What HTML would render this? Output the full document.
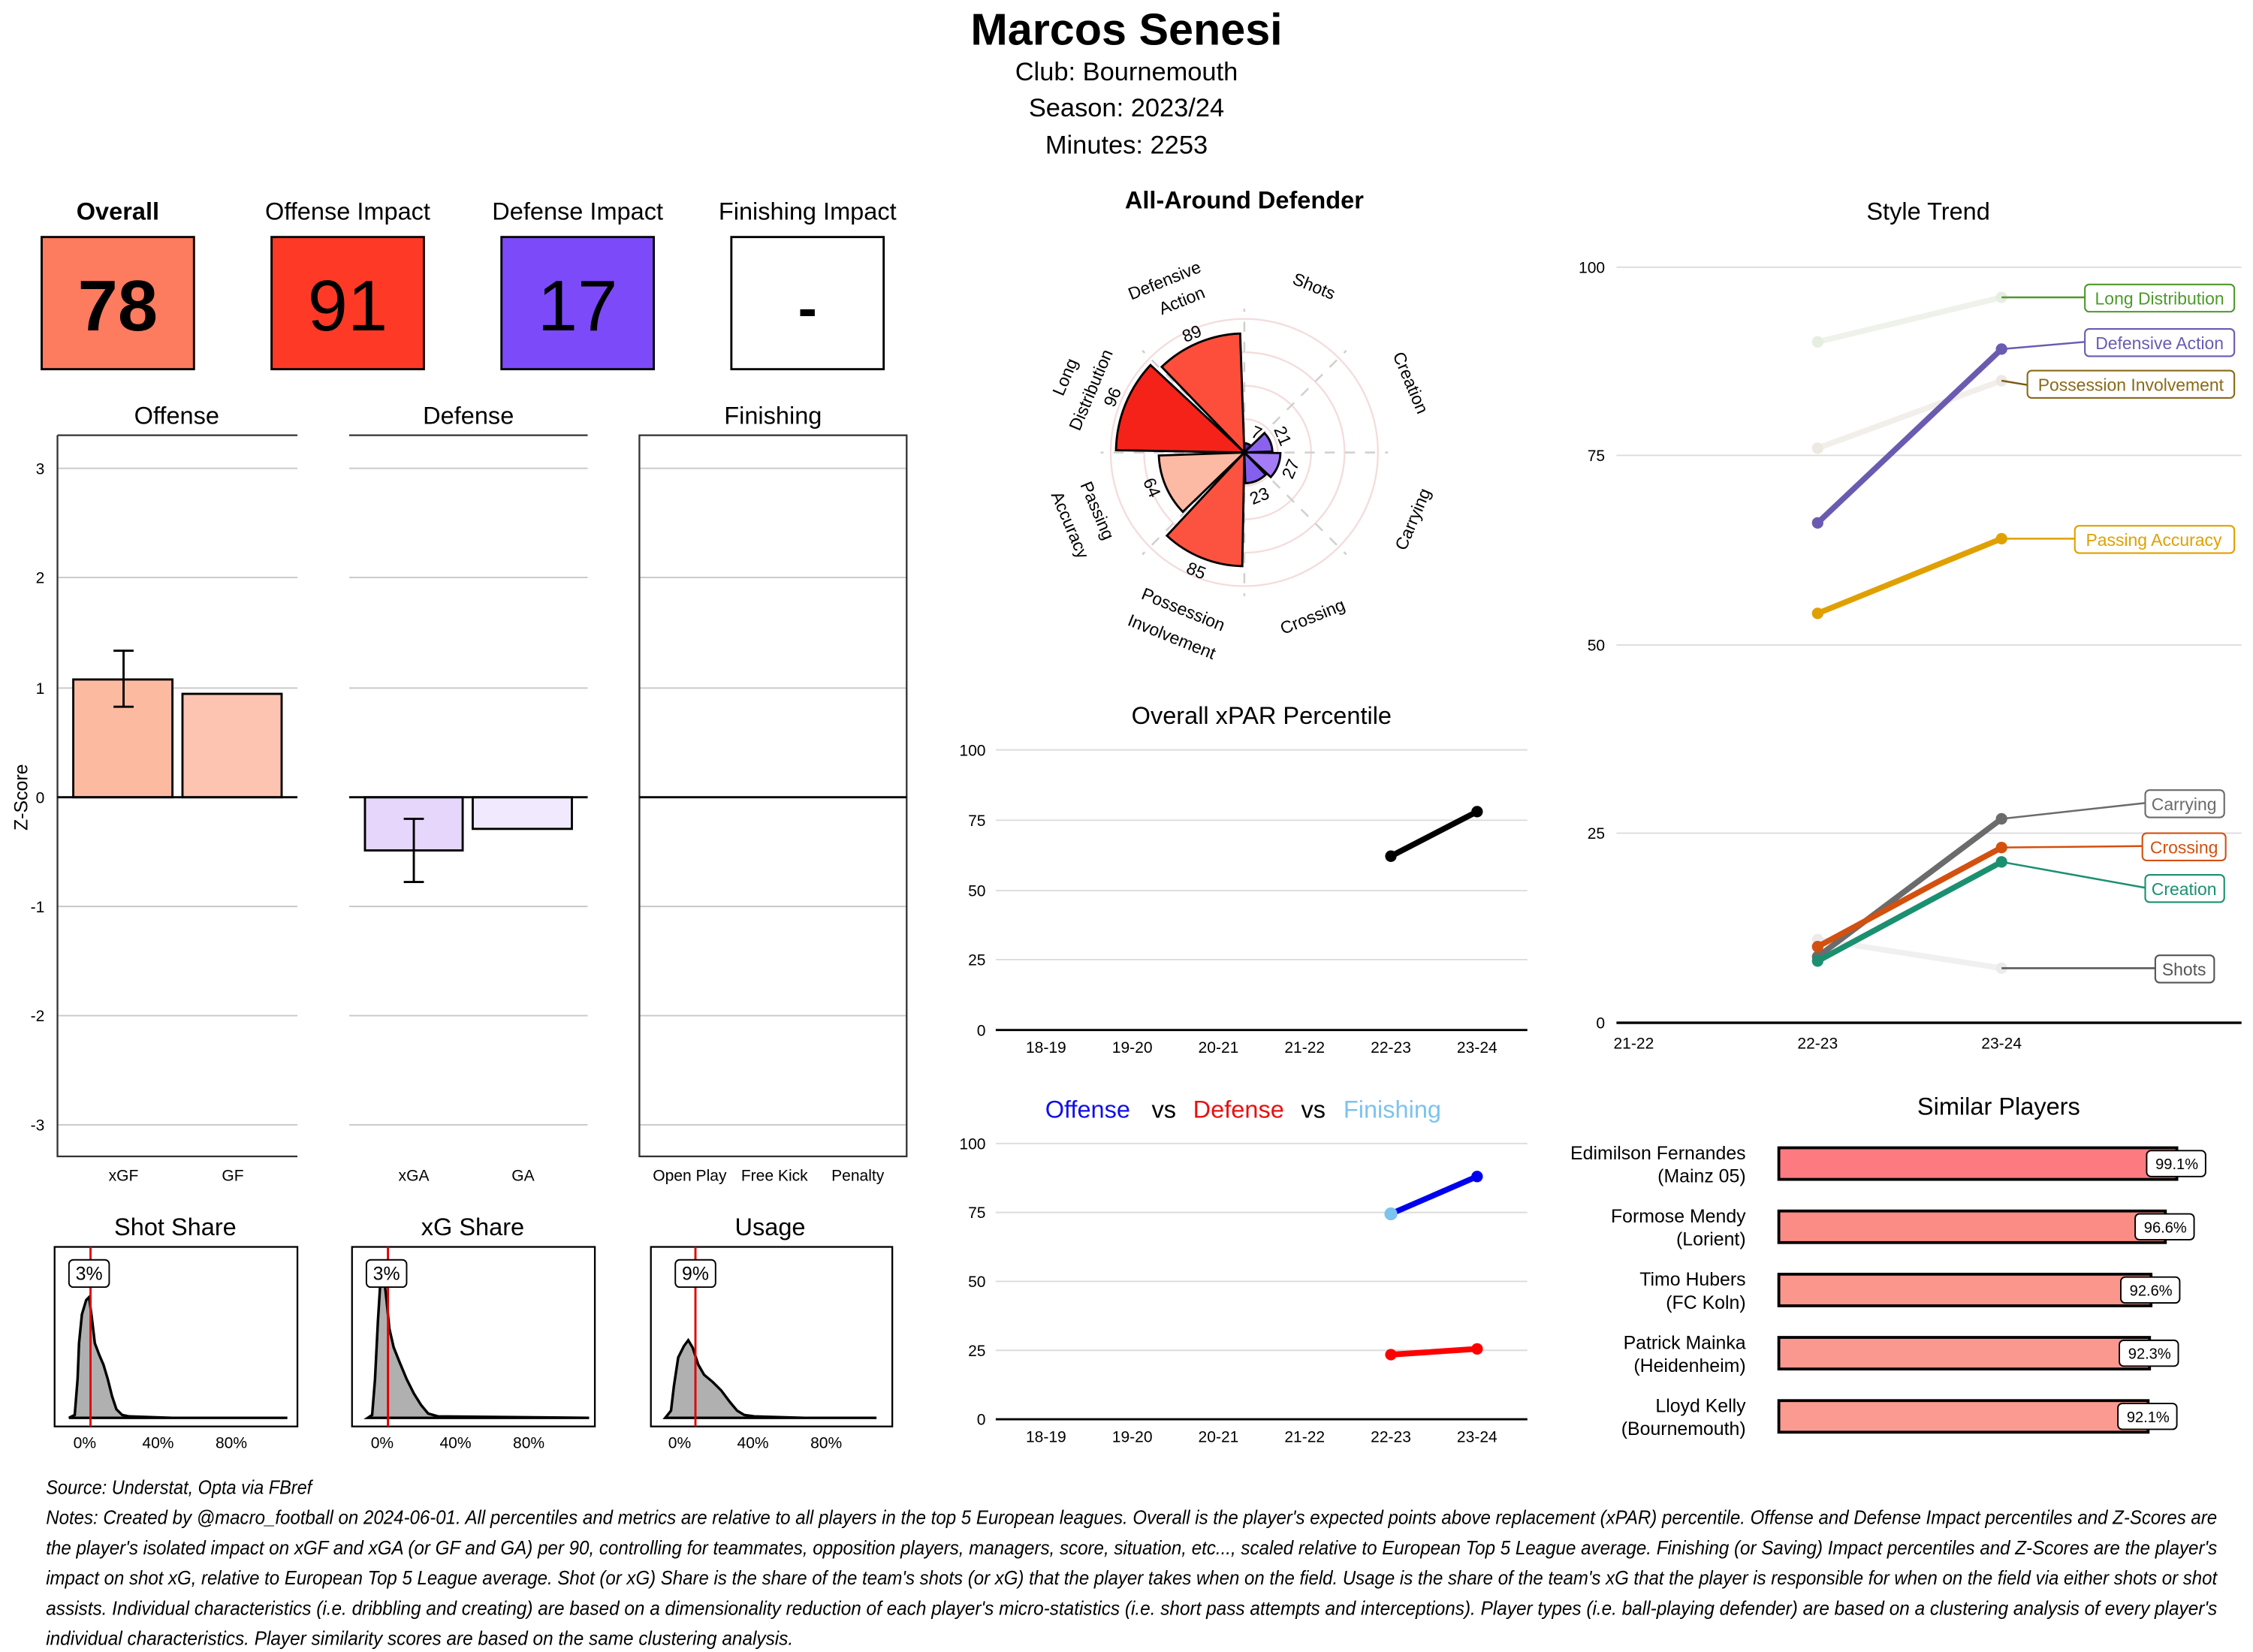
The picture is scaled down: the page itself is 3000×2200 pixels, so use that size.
<!DOCTYPE html>
<html><head><meta charset="utf-8"><style>
html,body{margin:0;padding:0;background:#fff;}
svg{display:block;}
text{font-family:"Liberation Sans Narrow","Liberation Sans",sans-serif;fill:#000;}
.ar{font-family:"Liberation Sans",sans-serif;}
</style></head><body>
<svg width="3000" height="2200" viewBox="0 0 1568 1150" preserveAspectRatio="none" xmlns="http://www.w3.org/2000/svg">
<rect width="1568" height="1150" fill="#fff"/>
<!-- Header -->
<text x="784" y="31" font-size="31" font-weight="bold" text-anchor="middle">Marcos Senesi</text>
<text x="784" y="56" font-size="18" text-anchor="middle">Club:  Bournemouth</text>
<text x="784" y="81" font-size="18" text-anchor="middle">Season:  2023/24</text>
<text x="784" y="107" font-size="18" text-anchor="middle">Minutes:  2253</text>

<!-- Impact boxes -->
<g font-size="17" text-anchor="middle">
<text x="82" y="153" font-weight="bold">Overall</text>
<text x="242" y="153">Offense Impact</text>
<text x="402" y="153">Defense Impact</text>
<text x="562" y="153">Finishing Impact</text>
</g>
<rect x="29" y="165" width="106" height="92" fill="#fd7b5e" stroke="#000" stroke-width="1.5"/>
<rect x="189" y="165" width="106" height="92" fill="#fe3a26" stroke="#000" stroke-width="1.5"/>
<rect x="349" y="165" width="106" height="92" fill="#7c4af9" stroke="#000" stroke-width="1.5"/>
<rect x="509" y="165" width="106" height="92" fill="#fff" stroke="#000" stroke-width="1.5"/>
<g font-size="50" text-anchor="middle">
<text x="82" y="230" font-weight="bold">78</text>
<text x="242" y="230">91</text>
<text x="402" y="230">17</text>
<text x="562" y="228" font-weight="bold" font-size="40">-</text>
</g>

<!-- Z-score panels -->
<g font-size="17" text-anchor="middle">
<text x="123" y="295">Offense</text><text x="326" y="295">Defense</text><text x="538" y="295">Finishing</text>
</g>
<g stroke="#c8c8c8" stroke-width="1">
<path d="M40 326H207M40 402H207M40 479H207M40 631H207M40 707H207M40 783H207"/>
<path d="M243 326H409M243 402H409M243 479H409M243 631H409M243 707H409M243 783H409"/>
<path d="M445 326H631M445 402H631M445 479H631M445 631H631M445 707H631M445 783H631"/>
</g>
<g stroke="#333" stroke-width="1.2" fill="none">
<path d="M40 303H207M243 303H409"/>
<path d="M40 303V805H207"/>
<rect x="445" y="303" width="186" height="502"/>
</g>
<g font-size="11" text-anchor="end" fill="#444">
<text x="31" y="330">3</text><text x="31" y="406">2</text><text x="31" y="483">1</text><text x="31" y="559">0</text><text x="31" y="635">-1</text><text x="31" y="711">-2</text><text x="31" y="787">-3</text>
</g>
<text transform="translate(19,555) rotate(-90)" font-size="13" text-anchor="middle">Z-Score</text>
<rect x="51" y="473" width="69" height="82" fill="#fcbba1" stroke="#000" stroke-width="1.5"/>
<rect x="127" y="483" width="69" height="72" fill="#fdc4b2" stroke="#000" stroke-width="1.5"/>
<rect x="254" y="555" width="68" height="37" fill="#e6d6fb" stroke="#000" stroke-width="1.5"/>
<rect x="329" y="555" width="69" height="22" fill="#f1e9fd" stroke="#000" stroke-width="1.5"/>
<g stroke="#000" stroke-width="1.5">
<path d="M40 555H207M243 555H409M445 555H631"/>
<path d="M86 453V492M79 453H93M79 492H93"/>
<path d="M288 570V614M281 570H295M281 614H295"/>
</g>
<g font-size="11" text-anchor="middle" fill="#444">
<text x="86" y="822">xGF</text><text x="162" y="822">GF</text>
<text x="288" y="822">xGA</text><text x="364" y="822">GA</text>
<text x="480" y="822">Open Play</text><text x="539" y="822">Free Kick</text><text x="597" y="822">Penalty</text>
</g>

<!-- Density panels -->
<g font-size="17" text-anchor="middle">
<text x="122" y="860">Shot Share</text><text x="329" y="860">xG Share</text><text x="536" y="860">Usage</text>
</g>
<g fill="#b0b0b0" stroke="#000" stroke-width="1.8">
<path d="M48 987L52 985L54 960L55 935L57 915L60 905L62 903L64 918L66 935L69 943L72 950L75 960L78 972L81 981L85 985L90 986L120 987L200 987Z"/>
<path d="M256 987L259 985L261 960L263 920L265 888L267 887L269 905L271 925L274 938L278 948L283 960L288 970L293 978L298 984L305 986L410 987Z"/>
<path d="M463 987L467 982L469 965L472 945L476 937L479 933L482 938L486 950L490 957L496 962L502 968L508 976L513 982L518 985L525 986L560 987L610 987Z"/>
</g>
<g stroke="#000" stroke-width="1.2" fill="none">
<rect x="38" y="868" width="169" height="125"/>
<rect x="245" y="868" width="169" height="125"/>
<rect x="453" y="868" width="168" height="125"/>
</g>
<g stroke="#e00000" stroke-width="1.5">
<path d="M63 868V993M270 868V993M484 868V993"/>
</g>
<g fill="#fff" stroke="#000" stroke-width="1">
<rect x="48" y="877" width="28" height="19" rx="3"/>
<rect x="255" y="877" width="28" height="19" rx="3"/>
<rect x="470" y="877" width="28" height="19" rx="3"/>
</g>
<g font-size="13" text-anchor="middle">
<text x="62" y="891">3%</text><text x="269" y="891">3%</text><text x="484" y="891">9%</text>
</g>
<g font-size="11" text-anchor="middle" fill="#444">
<text x="59" y="1008">0%</text><text x="110" y="1008">40%</text><text x="161" y="1008">80%</text>
<text x="266" y="1008">0%</text><text x="317" y="1008">40%</text><text x="368" y="1008">80%</text>
<text x="473" y="1008">0%</text><text x="524" y="1008">40%</text><text x="575" y="1008">80%</text>
</g>

<!-- Polar chart -->
<text x="866" y="145" font-size="17" font-weight="bold" text-anchor="middle">All-Around Defender</text>
<g fill="none" stroke="#f4dcdc" stroke-width="1.2">
<circle cx="866" cy="315" r="23.25"/><circle cx="866" cy="315" r="46.5"/><circle cx="866" cy="315" r="69.75"/><circle cx="866" cy="315" r="93"/>
</g>
<g stroke="#cfcfcf" stroke-width="1.3" stroke-dasharray="7 7">
<path d="M866 315V215M866 315V415M866 315H766M866 315H966M866 315L937 244M866 315L795 386M866 315L795 244M866 315L937 386"/>
</g>
<g stroke="#000" stroke-width="1.5">
<path d="M866 315L808.5 255.4A82.8 82.8 0 0 1 863.1 232.2Z" fill="#fc4e3a"/>
<path d="M866 315L776.7 313.4A89.3 89.3 0 0 1 800.7 254.1Z" fill="#f5221a"/>
<path d="M866 315L823.2 356.3A59.5 59.5 0 0 1 806.5 317.1Z" fill="#fcb9a3"/>
<path d="M866 315L864.6 394.1A79.1 79.1 0 0 1 812.1 372.9Z" fill="#fc5340"/>
<path d="M866 315L880.9 330.4A21.4 21.4 0 0 1 866.7 336.4Z" fill="#8560ee"/>
<path d="M866 315L891.1 315.4A25.1 25.1 0 0 1 884.4 332.1Z" fill="#a47cf6"/>
<path d="M866 315L880 301.5A19.5 19.5 0 0 1 885.5 314.3Z" fill="#8a62ee"/>
<path d="M866 315L866.1 308.5A6.5 6.5 0 0 1 870.4 310.2Z" fill="#5a2fb0"/>
</g>
<g class="ar" font-size="12" text-anchor="middle">
<text class="ar" transform="translate(913,203) rotate(22)">Shots</text>
<text class="ar" transform="translate(978,268) rotate(67)">Creation</text>
<text class="ar" transform="translate(987,363) rotate(-67)">Carrying</text>
<text class="ar" transform="translate(915,433) rotate(-22)">Crossing</text>
<text class="ar" transform="translate(822,428) rotate(22)">Possession</text>
<text class="ar" transform="translate(814,447) rotate(22)">Involvement</text>
<text class="ar" transform="translate(760,357) rotate(67)">Passing</text>
<text class="ar" transform="translate(741,367) rotate(67)">Accuracy</text>
<text class="ar" transform="translate(745,264) rotate(-67)">Long</text>
<text class="ar" transform="translate(763,273) rotate(-67)">Distribution</text>
<text class="ar" transform="translate(812,199) rotate(-22)">Defensive</text>
<text class="ar" transform="translate(824,213) rotate(-22)">Action</text>
<text class="ar" transform="translate(831,236) rotate(-22)">89</text>
<text class="ar" transform="translate(778,278) rotate(-67)">96</text>
<text class="ar" transform="translate(798,341) rotate(67)">64</text>
<text class="ar" transform="translate(831,401) rotate(22)">85</text>
<text class="ar" transform="translate(873,305) rotate(22)">7</text>
<text class="ar" transform="translate(889,305) rotate(67)">21</text>
<text class="ar" transform="translate(902,328) rotate(-67)">27</text>
<text class="ar" transform="translate(878,349) rotate(-22)">23</text>
</g>

<!-- Overall xPAR -->
<text x="878" y="504" font-size="17" text-anchor="middle">Overall xPAR Percentile</text>
<g stroke="#dcdcdc" stroke-width="1"><path d="M693 522H1063M693 571H1063M693 620H1063M693 668H1063"/></g>
<path d="M693 717H1063" stroke="#000" stroke-width="1.5"/>
<g font-size="11" text-anchor="end" fill="#444" class="ar">
<text class="ar" x="686" y="526">100</text><text class="ar" x="686" y="575">75</text><text class="ar" x="686" y="624">50</text><text class="ar" x="686" y="672">25</text><text class="ar" x="686" y="721">0</text>
</g>
<g font-size="11" text-anchor="middle" fill="#444">
<text class="ar" x="728" y="733">18-19</text><text class="ar" x="788" y="733">19-20</text><text class="ar" x="848" y="733">20-21</text><text class="ar" x="908" y="733">21-22</text><text class="ar" x="968" y="733">22-23</text><text class="ar" x="1028" y="733">23-24</text>
</g>
<path d="M968 596L1028 565" stroke="#000" stroke-width="4"/>
<circle cx="968" cy="596" r="4"/><circle cx="1028" cy="565" r="4"/>

<!-- Offense vs Defense vs Finishing -->
<g font-size="17" text-anchor="middle">
<text x="757" y="778" style="fill:#1010e8">Offense</text>
<text x="810" y="778">vs</text>
<text x="862" y="778" style="fill:#e81010">Defense</text>
<text x="914" y="778">vs</text>
<text x="969" y="778" style="fill:#7cc3ee">Finishing</text>
</g>
<g stroke="#dcdcdc" stroke-width="1"><path d="M693 796H1063M693 844H1063M693 892H1063M693 940H1063"/></g>
<path d="M693 988H1063" stroke="#000" stroke-width="1.5"/>
<g font-size="11" text-anchor="end" fill="#444">
<text class="ar" x="686" y="800">100</text><text class="ar" x="686" y="848">75</text><text class="ar" x="686" y="896">50</text><text class="ar" x="686" y="944">25</text><text class="ar" x="686" y="992">0</text>
</g>
<g font-size="11" text-anchor="middle" fill="#444">
<text class="ar" x="728" y="1004">18-19</text><text class="ar" x="788" y="1004">19-20</text><text class="ar" x="848" y="1004">20-21</text><text class="ar" x="908" y="1004">21-22</text><text class="ar" x="968" y="1004">22-23</text><text class="ar" x="1028" y="1004">23-24</text>
</g>
<path d="M968 845L1028 819" stroke="#0000f0" stroke-width="4"/>
<circle cx="1028" cy="819" r="4" fill="#0000f0"/><circle cx="968" cy="845" r="4.5" fill="#7cc3ee"/>
<path d="M968 943L1028 939" stroke="#f00" stroke-width="4"/>
<circle cx="968" cy="943" r="4" fill="#f00"/><circle cx="1028" cy="939" r="4" fill="#f00"/>

<!-- Style Trend -->
<text x="1342" y="153" font-size="17" text-anchor="middle">Style Trend</text>
<g stroke="#dcdcdc" stroke-width="1"><path d="M1125 186H1560M1125 317H1560M1125 449H1560M1125 580H1560"/></g>
<path d="M1125 712H1560" stroke="#000" stroke-width="1.8"/>
<g font-size="11" text-anchor="end" fill="#444">
<text class="ar" x="1117" y="190">100</text><text class="ar" x="1117" y="321">75</text><text class="ar" x="1117" y="453">50</text><text class="ar" x="1117" y="584">25</text><text class="ar" x="1117" y="716">0</text>
</g>
<g font-size="11" text-anchor="middle" fill="#444">
<text class="ar" x="1137" y="730">21-22</text><text class="ar" x="1265" y="730">22-23</text><text class="ar" x="1393" y="730">23-24</text>
</g>
<g stroke-width="4">
<path d="M1265 238L1393 207" stroke="#eef2ea"/><circle cx="1265" cy="238" r="4" fill="#e6eee1"/><circle cx="1393" cy="207" r="4" fill="#e6eee1"/>
<path d="M1265 312L1393 265" stroke="#f2efea"/><circle cx="1265" cy="312" r="4" fill="#ede8e1"/><circle cx="1393" cy="265" r="4" fill="#ede8e1"/>
<path d="M1265 654L1393 674" stroke="#f0f0f0"/><circle cx="1265" cy="654" r="4" fill="#ebebeb"/><circle cx="1393" cy="674" r="4" fill="#ebebeb"/>
</g>
<g stroke-width="1.3" fill="none">
<path d="M1393 207H1451" stroke="#4d9a2a"/>
<path d="M1393 243L1451 238" stroke="#6a5bb0"/>
<path d="M1393 265L1411 268" stroke="#7a5a10"/>
<path d="M1393 375H1444" stroke="#e0a000"/>
<path d="M1393 570L1493 559" stroke="#6b6b6b"/>
<path d="M1393 590L1491 589" stroke="#d3500f"/>
<path d="M1393 600L1493 618" stroke="#1b9070"/>
<path d="M1393 674H1500" stroke="#555"/>
</g>
<g stroke-width="4">
<path d="M1265 364L1393 243" stroke="#6a5bb0"/><circle cx="1265" cy="364" r="4" fill="#6a5bb0"/><circle cx="1393" cy="243" r="4" fill="#6a5bb0"/>
<path d="M1265 427L1393 375" stroke="#e0a000"/><circle cx="1265" cy="427" r="4" fill="#e0a000"/><circle cx="1393" cy="375" r="4" fill="#e0a000"/>
<path d="M1265 666L1393 570" stroke="#6b6b6b"/><circle cx="1265" cy="666" r="4" fill="#6b6b6b"/><circle cx="1393" cy="570" r="4" fill="#6b6b6b"/>
<path d="M1265 659L1393 590" stroke="#d3500f"/><circle cx="1265" cy="659" r="4" fill="#d3500f"/><circle cx="1393" cy="590" r="4" fill="#d3500f"/>
<path d="M1265 669L1393 600" stroke="#1b9070"/><circle cx="1265" cy="669" r="4" fill="#1b9070"/><circle cx="1393" cy="600" r="4" fill="#1b9070"/>
</g>
<g fill="#fff" stroke-width="1.1">
<rect x="1451" y="198" width="104" height="19" rx="3" stroke="#4d9a2a"/>
<rect x="1451" y="229" width="104" height="19" rx="3" stroke="#6a5bb0"/>
<rect x="1411" y="258" width="144" height="19" rx="3" stroke="#8a6a18"/>
<rect x="1444" y="366" width="111" height="19" rx="3" stroke="#e0a000"/>
<rect x="1493" y="550" width="55" height="19" rx="3" stroke="#6b6b6b"/>
<rect x="1491" y="580" width="58" height="19" rx="3" stroke="#d3500f"/>
<rect x="1493" y="609" width="55" height="19" rx="3" stroke="#1b9070"/>
<rect x="1500" y="665" width="41" height="19" rx="3" stroke="#555"/>
</g>
<g font-size="12" text-anchor="middle">
<text class="ar" x="1503" y="212" style="fill:#4d9a2a">Long Distribution</text>
<text class="ar" x="1503" y="243" style="fill:#6a5bb0">Defensive Action</text>
<text class="ar" x="1483" y="272" style="fill:#8a6a18">Possession Involvement</text>
<text class="ar" x="1499" y="380" style="fill:#e0a000">Passing Accuracy</text>
<text class="ar" x="1520" y="564" style="fill:#6b6b6b">Carrying</text>
<text class="ar" x="1520" y="594" style="fill:#d3500f">Crossing</text>
<text class="ar" x="1520" y="623" style="fill:#1b9070">Creation</text>
<text class="ar" x="1520" y="679" style="fill:#555">Shots</text>
</g>

<!-- Similar Players -->
<text x="1391" y="776" font-size="17" text-anchor="middle">Similar Players</text>
<g stroke="#000" stroke-width="2">
<rect x="1238" y="799" width="277" height="22" fill="#fd7b80"/>
<rect x="1238" y="843" width="269" height="22" fill="#fb8c85"/>
<rect x="1238" y="887" width="259" height="22" fill="#fb968c"/>
<rect x="1238" y="931" width="258" height="22" fill="#fa988f"/>
<rect x="1238" y="975" width="257" height="22" fill="#fa9a90"/>
</g>
<g fill="#fff" stroke="#000" stroke-width="1">
<rect x="1494" y="801" width="41" height="18" rx="3"/>
<rect x="1486" y="845" width="41" height="18" rx="3"/>
<rect x="1476" y="889" width="41" height="18" rx="3"/>
<rect x="1475" y="933" width="41" height="18" rx="3"/>
<rect x="1474" y="977" width="41" height="18" rx="3"/>
</g>
<g font-size="10.5" text-anchor="middle">
<text x="1515" y="814">99.1%</text><text x="1507" y="858">96.6%</text><text x="1497" y="902">92.6%</text><text x="1496" y="946">92.3%</text><text x="1495" y="990">92.1%</text>
</g>
<g font-size="13" text-anchor="end">
<text x="1215" y="807">Edimilson Fernandes</text><text x="1215" y="823">(Mainz 05)</text>
<text x="1215" y="851">Formose Mendy</text><text x="1215" y="867">(Lorient)</text>
<text x="1215" y="895">Timo Hubers</text><text x="1215" y="911">(FC Koln)</text>
<text x="1215" y="939">Patrick Mainka</text><text x="1215" y="955">(Heidenheim)</text>
<text x="1215" y="983">Lloyd Kelly</text><text x="1215" y="999">(Bournemouth)</text>
</g>

<!-- Footer -->
<g font-size="13.5" font-style="italic">
<text x="32" y="1040" textLength="185" lengthAdjust="spacingAndGlyphs">Source: Understat, Opta via FBref</text>
<text x="32" y="1061" textLength="1511" lengthAdjust="spacingAndGlyphs">Notes: Created by @macro_football on 2024-06-01. All percentiles and metrics are relative to all players in the top 5 European leagues. Overall is the player's expected points above replacement (xPAR) percentile. Offense and Defense Impact percentiles and Z-Scores are</text>
<text x="32" y="1082" textLength="1511" lengthAdjust="spacingAndGlyphs">the player's isolated impact on xGF and xGA (or GF and GA) per 90, controlling for teammates, opposition players, managers, score, situation, etc..., scaled relative to European Top 5 League average. Finishing (or Saving) Impact percentiles and Z-Scores are the player's</text>
<text x="32" y="1103" textLength="1511" lengthAdjust="spacingAndGlyphs">impact on shot xG, relative to European Top 5 League average. Shot (or xG) Share is the share of the team's shots (or xG) that the player takes when on the field. Usage is the share of the team's xG that the player is responsible for when on the field via either shots or shot</text>
<text x="32" y="1124" textLength="1511" lengthAdjust="spacingAndGlyphs">assists. Individual characteristics (i.e. dribbling and creating) are based on a dimensionality reduction of each player's micro-statistics (i.e. short pass attempts and interceptions). Player types (i.e. ball-playing defender) are based on a clustering analysis of every player's</text>
<text x="32" y="1145" textLength="520" lengthAdjust="spacingAndGlyphs">individual characteristics. Player similarity scores are based on the same clustering analysis.</text>
</g>
</svg>
</body></html>
